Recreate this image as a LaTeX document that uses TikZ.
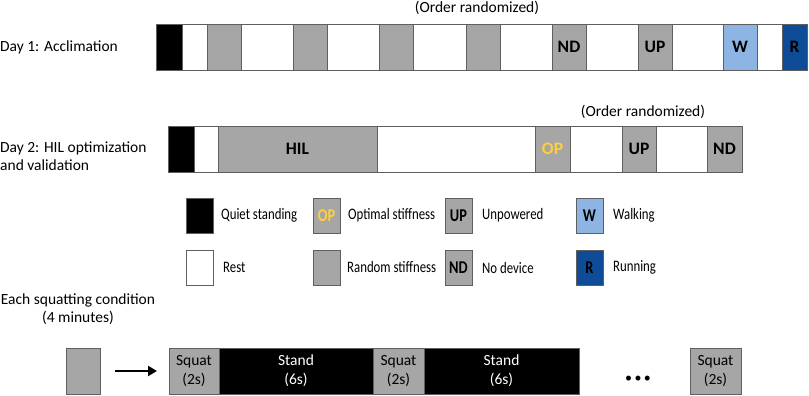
\documentclass[tikz,border=0pt]{standalone}
\usepackage{fontspec}
\setmainfont{Carlito}
\newfontfamily\keyfont{Carlito}[FakeStretch=0.8]
\usepackage{tikz}
\usetikzlibrary{arrows.meta, positioning}
\usepackage{xcolor}
\definecolor{boxgray}{RGB}{166,166,166}
\definecolor{edgegray}{RGB}{95,95,95}
\definecolor{walkblue}{RGB}{141,180,226}
\definecolor{runblue}{RGB}{14,76,152}
\definecolor{opgold}{RGB}{255,208,60}

\begin{document}
\begin{tikzpicture}[x=1pt, y=-1pt,
  seg/.style={draw=edgegray, line width=0.8pt, inner sep=0pt, outer sep=0pt, anchor=north west, minimum height=46pt, font=\fontsize{17.5}{20}\selectfont\bfseries},
  key/.style={draw=edgegray, line width=0.8pt, inner sep=0pt, outer sep=0pt, anchor=north west, minimum width=27pt, minimum height=35pt, font=\keyfont\fontsize{18}{20}\selectfont\bfseries},
  keytext/.style={inner sep=0pt, font=\keyfont\fontsize{16}{19}\selectfont},
  lbl/.style={inner sep=0pt, font=\fontsize{15.5}{18.5}\selectfont}]
  \useasboundingbox (0,0) rectangle (809,396);

  % Day 1
  \node[lbl, anchor=west] (day1) at (0,47) {Day 1: Acclimation};
  \foreach \a/\b/\c/\t [count=\i] in {156/182/black/{}, 182/207/white/{}, 207/241/boxgray/{}, 241/293/white/{},
      293/327/boxgray/{}, 327/379/white/{}, 379/413/boxgray/{}, 413/466/white/{}, 466/500/boxgray/{},
      500/552/white/{}, 552/586/boxgray/ND, 586/638/white/{}, 638/672/boxgray/UP, 672/723/white/{},
      723/757/walkblue/W, 757/782/white/{}, 782/807/runblue/R} {
    \pgfmathsetmacro\w{\b-\a}
    \node[seg, fill=\c, minimum width=\w pt] (dA\i) at (\a,24) {\t};
  }
  \node[lbl] (randA) at (477,8) {(Order randomized)};

  % Day 2
  \node[lbl, anchor=west, align=left] (day2) at (0,156) {Day 2: HIL optimization\\and validation};
  \foreach \a/\b/\c/\t [count=\i] in {168/194/black/{}, 194/218/white/{}, 218/377/boxgray/HIL, 377/535/white/{},
      535/570/boxgray/{\textcolor{opgold}{OP}}, 570/622/white/{}, 622/656/boxgray/UP, 656/707/white/{},
      707/742/boxgray/ND} {
    \pgfmathsetmacro\w{\b-\a}
    \node[seg, fill=\c, minimum width=\w pt] (dB\i) at (\a,126) {\t};
  }
  \node[lbl] (randB) at (643,112) {(Order randomized)};

  % Legend
  \node[key, fill=black] (kQS) at (186,198) {};
  \node[key, fill=white] (kRest) at (186,250) {};
  \node[key, fill=boxgray, text=opgold] (kOP) at (313,198) {OP};
  \node[key, fill=boxgray] (kRand) at (313,250) {};
  \node[key, fill=boxgray] (kUP) at (445,198) {UP};
  \node[key, fill=boxgray] (kND) at (445,250) {ND};
  \node[key, fill=walkblue] (kW) at (576,198) {W};
  \node[key, fill=runblue] (kR) at (576,250) {R};
  \node[keytext, right=8pt of kQS] {Quiet standing};
  \node[keytext, right=10pt of kRest] {Rest};
  \node[keytext, right=8pt of kOP] {Optimal stiffness};
  \node[keytext, right=7pt of kRand] {Random stiffness};
  \node[keytext, right=10pt of kUP] {Unpowered};
  \node[keytext, right=10pt of kND] {No device};
  \node[keytext, right=10pt of kW] {Walking};
  \node[keytext, right=10pt of kR] {Running};

  % Squatting condition
  \node[lbl, align=center] (each) at (78,309) {Each squatting condition\\(4 minutes)};
  \node[seg, fill=boxgray, minimum width=34pt] (cond) at (66,348) {};
  \foreach \a/\b/\c/\t/\d/\tc [count=\i] in {169/219/boxgray/Squat/2s/black, 219/373/black/Stand/6s/white,
      373/424/boxgray/Squat/2s/black, 424/579/black/Stand/6s/white, 690/741/boxgray/Squat/2s/black} {
    \pgfmathsetmacro\w{\b-\a}
    \node[seg, fill=\c, text=\tc, minimum width=\w pt, align=center, font=\fontsize{15.5}{19}\selectfont] (sq\i) at (\a,348) {\t\\(\d)};
  }
  \node[lbl, font=\fontsize{14}{16}\selectfont] (dots) at (638,379) {\textbullet\hspace{2.5pt}\textbullet\hspace{2.5pt}\textbullet};
  \draw[-{Triangle[length=9pt, width=10pt]}, line width=2.6pt, shorten <=15pt, shorten >=12pt] (cond.east) -- (sq1.west);
\end{tikzpicture}
\end{document}
